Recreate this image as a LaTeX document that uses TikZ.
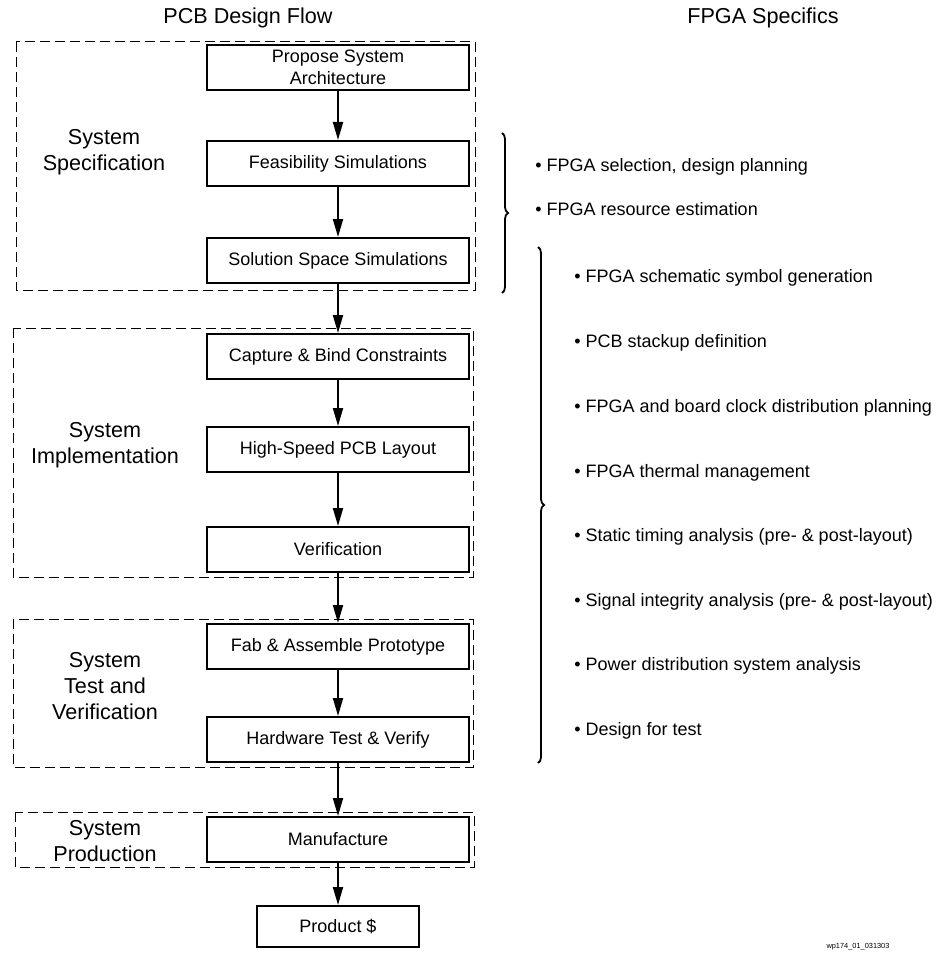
\documentclass[tikz,border=0pt]{standalone}
\usepackage{fontspec}
\setmainfont{Liberation Sans}
\usetikzlibrary{arrows.meta, decorations.pathreplacing}

\begin{document}
\begin{tikzpicture}[x=0.5pt, y=-0.5pt, >={Triangle[length=9pt, width=5pt]},
    box/.style={draw, line width=1pt, minimum width=131pt, minimum height=22.5pt, inner sep=0pt, align=center, font=\fontsize{9}{11}\selectfont},
    grouplabel/.style={align=center, font=\fontsize{10.8}{13}\selectfont},
    heading/.style={font=\fontsize{10.8}{13}\selectfont},
    frame/.style={dash pattern=on 5pt off 2.5pt, line width=0.5pt},
    item/.style={anchor=west, inner sep=0pt, font=\fontsize{9}{11}\selectfont},
    flow/.style={->, line width=1pt},
    curly/.style={decorate, decoration={brace, amplitude=3pt}, line width=0.9pt}]
        \useasboundingbox (0,0) rectangle (943,963);

        % headings
        \node[heading] (pcb_title)  at (248,18) {PCB Design Flow};
        \node[heading] (fpga_title) at (763,18) {FPGA Specifics};

        % dashed phase frames
        \draw[frame] (16,42)  rectangle (475,290);
        \draw[frame] (13,328) rectangle (473,577);
        \draw[frame] (13,619) rectangle (473,767);
        \draw[frame] (15,812) rectangle (474,867);

        \node[grouplabel] (spec_label) at (104,152) {System\\Specification};
        \node[grouplabel] (impl_label) at (105,445) {System\\Implementation};
        \node[grouplabel] (test_label) at (105,686) {System\\Test and\\Verification};
        \node[grouplabel] (prod_label) at (105,841) {System\\Production};

        % flow steps
        \node[box] (propose)  at (338,67.5)  {Propose System\\Architecture};
        \node[box] (feasible) at (338,163.5) {Feasibility Simulations};
        \node[box] (solution) at (338,260.5) {Solution Space Simulations};
        \node[box] (capture)  at (338,356.5) {Capture \& Bind Constraints};
        \node[box] (layout)   at (338,449.5) {High-Speed PCB Layout};
        \node[box] (verify)   at (338,549.5) {Verification};
        \node[box] (fab)      at (338,646.5) {Fab \& Assemble Prototype};
        \node[box] (hw_test)  at (338,739.5) {Hardware Test \& Verify};
        \node[box] (manuf)    at (338,839.5) {Manufacture};
        \node[box, minimum width=81pt, minimum height=20.5pt] (product) at (338,926.5) {Product \$};

        \draw[flow] (propose)  -- (feasible);
        \draw[flow] (feasible) -- (solution);
        \draw[flow] (solution) -- (capture);
        \draw[flow] (capture)  -- (layout);
        \draw[flow] (layout)   -- (verify);
        \draw[flow] (verify)   -- (fab);
        \draw[flow] (fab)      -- (hw_test);
        \draw[flow] (hw_test)  -- (manuf);
        \draw[flow] (manuf)    -- (product);

        % FPGA specifics
        \coordinate (brace1_top) at (502,133);
        \coordinate (brace1_bot) at (502,293);
        \coordinate (brace2_top) at (538,247);
        \coordinate (brace2_bot) at (538,763);
        \draw[curly] (brace1_top) -- (brace1_bot);
        \draw[curly] (brace2_top) -- (brace2_bot);

        \node[item] (selection) at (535,167) {\textbullet\ FPGA selection, design planning};
        \node[item] (resource)  at (535,209) {\textbullet\ FPGA resource estimation};

        \node[item] (symbol)  at (574,278) {\textbullet\ FPGA schematic symbol generation};
        \node[item] (stackup) at (574,343) {\textbullet\ PCB stackup definition};
        \node[item] (clock)   at (574,408) {\textbullet\ FPGA and board clock distribution planning};
        \node[item] (thermal) at (574,473) {\textbullet\ FPGA thermal management};
        \node[item] (timing)  at (574,537) {\textbullet\ Static timing analysis (pre- \& post-layout)};
        \node[item] (signal)  at (574,602) {\textbullet\ Signal integrity analysis (pre- \& post-layout)};
        \node[item] (power)   at (574,666) {\textbullet\ Power distribution system analysis};
        \node[item] (dft)     at (574,731) {\textbullet\ Design for test};

        \node[font=\fontsize{3.7}{4.5}\selectfont] (fig_id) at (858,947) {wp174\_01\_031303};
    \end{tikzpicture}
\end{document}
